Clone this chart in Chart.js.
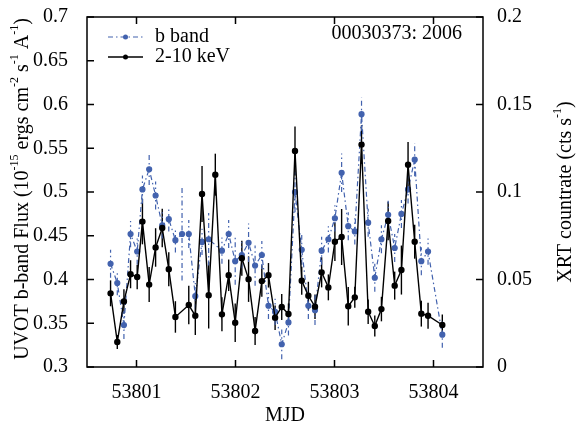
<!DOCTYPE html>
<html>
<head>
<meta charset="utf-8">
<script src="https://cdn.jsdelivr.net/npm/chart.js@4"></script>
<style>
  body { margin: 0; background: #fff; }
  canvas { display: block; }
</style>
</head>
<body>
<canvas id="lightCurve" width="577" height="427"></canvas>
<script>
// UVOT b band (left axis)
const bandMjd = [53800.738, 53800.806, 53800.873, 53800.940, 53801.007, 53801.060, 53801.128, 53801.193, 53801.260, 53801.326,
  53801.393, 53801.460, 53801.528, 53801.594, 53801.662, 53801.729, 53801.863, 53801.931, 53801.997, 53802.064,
  53802.132, 53802.198, 53802.266, 53802.333, 53802.400, 53802.467, 53802.535, 53802.601, 53802.669, 53802.736,
  53802.803, 53802.870, 53802.938, 53803.004, 53803.072, 53803.139, 53803.205, 53803.273, 53803.340, 53803.407,
  53803.474, 53803.542, 53803.608, 53803.676, 53803.743, 53803.810, 53803.877, 53803.945, 53804.089];
const bandFlux = [0.418, 0.396, 0.348, 0.452, 0.432, 0.503, 0.526, 0.496, 0.462, 0.469,
  0.445, 0.452, 0.452, 0.381, 0.443, 0.446, 0.433, 0.452, 0.421, 0.428,
  0.442, 0.416, 0.428, 0.370, 0.363, 0.326, 0.351, 0.500, 0.434, 0.370,
  0.365, 0.433, 0.446, 0.470, 0.522, 0.461, 0.455, 0.589, 0.465, 0.402,
  0.446, 0.474, 0.436, 0.475, 0.503, 0.537, 0.421, 0.432, 0.337];
const bandErr = [0.016, 0.014, 0.016, 0.015, 0.015, 0.016, 0.018, 0.016, 0.015, 0.014,
  0.014, 0.053, 0.016, 0.015, 0.015, 0.030, 0.015, 0.016, 0.027, 0.015,
  0.022, 0.023, 0.016, 0.015, 0.015, 0.017, 0.015, 0.023, 0.017, 0.015,
  0.017, 0.016, 0.015, 0.015, 0.022, 0.016, 0.015, 0.019, 0.016, 0.016,
  0.016, 0.016, 0.016, 0.016, 0.016, 0.019, 0.016, 0.015, 0.015];

// XRT 2-10 keV (right axis)
const xrtMjd = [53800.738, 53800.806, 53800.873, 53800.940, 53801.007, 53801.060, 53801.128, 53801.193, 53801.260, 53801.326,
  53801.393, 53801.528, 53801.594, 53801.662, 53801.729, 53801.796, 53801.863, 53801.931, 53801.997, 53802.064,
  53802.132, 53802.198, 53802.266, 53802.333, 53802.400, 53802.467, 53802.535, 53802.601, 53802.669, 53802.736,
  53802.803, 53802.870, 53802.938, 53803.004, 53803.072, 53803.139, 53803.205, 53803.273, 53803.340, 53803.407,
  53803.474, 53803.542, 53803.608, 53803.676, 53803.743, 53803.810, 53803.877, 53803.945, 53804.089];
const xrtRate = [0.0421, 0.0143, 0.0375, 0.0530, 0.0514, 0.0831, 0.0471, 0.0683, 0.0794, 0.0559,
  0.0286, 0.0354, 0.0293, 0.0989, 0.0410, 0.1099, 0.0301, 0.0524, 0.0253, 0.0622,
  0.0502, 0.0206, 0.0491, 0.0524, 0.0282, 0.0343, 0.0303, 0.1234, 0.0493, 0.0407,
  0.0345, 0.0541, 0.0455, 0.0716, 0.0743, 0.0347, 0.0398, 0.1271, 0.0316, 0.0234,
  0.0331, 0.0834, 0.0465, 0.0554, 0.1156, 0.0716, 0.0305, 0.0293, 0.0240];
const xrtErr = [0.0074, 0.0040, 0.0069, 0.0080, 0.0069, 0.0130, 0.0100, 0.0110, 0.0110, 0.0097,
  0.0090, 0.0110, 0.0110, 0.0160, 0.0190, 0.0120, 0.0097, 0.0090, 0.0110, 0.0100,
  0.0130, 0.0080, 0.0090, 0.0070, 0.0070, 0.0074, 0.0060, 0.0140, 0.0080, 0.0080,
  0.0070, 0.0086, 0.0074, 0.0110, 0.0160, 0.0110, 0.0060, 0.0110, 0.0070, 0.0060,
  0.0070, 0.0110, 0.0080, 0.0140, 0.0130, 0.0097, 0.0074, 0.0074, 0.0060];

const xTicks = [53801, 53802, 53803, 53804];
const yTicks = [0.3, 0.35, 0.4, 0.45, 0.5, 0.55, 0.6, 0.65, 0.7];
const y2Ticks = [0, 0.05, 0.1, 0.15, 0.2];

const BLUE = '#4262ae';
const DASH = [5, 3, 1.5, 3];
const FONT = '"Liberation Serif", "Times New Roman", serif';

const toXY = (xs, ys) => xs.map((x, i) => ({ x: x, y: ys[i] }));
const fixTicks = list => scale => { scale.ticks = list.map(v => ({ value: v })); };
const fixWidth = w => scale => {
  scale.width = w;
  scale.paddingTop = 0;
  scale.paddingBottom = 0;
};

// error bars, frame, inward ticks, titles, legend
const decorations = {
  id: 'decorations',
  beforeDatasetsDraw(chart) {
    const ctx = chart.ctx;
    const area = chart.chartArea;
    ctx.save();
    ctx.beginPath();
    ctx.rect(area.left, area.top, area.right - area.left, area.bottom - area.top);
    ctx.clip();
    chart.data.datasets.forEach(ds => {
      const ys = chart.scales[ds.yAxisID];
      ctx.strokeStyle = ds.borderColor;
      ctx.lineWidth = ds.borderWidth;
      ctx.setLineDash(ds.borderDash || []);
      ds.data.forEach((p, i) => {
        const px = chart.scales.x.getPixelForValue(p.x);
        ctx.beginPath();
        ctx.moveTo(px, ys.getPixelForValue(p.y - ds.errors[i]));
        ctx.lineTo(px, ys.getPixelForValue(p.y + ds.errors[i]));
        ctx.stroke();
      });
    });
    ctx.restore();
  },
  afterDraw(chart) {
    const ctx = chart.ctx;
    const a = chart.chartArea;
    const s = chart.scales;
    const tl = 7;
    ctx.save();
    ctx.strokeStyle = '#000';
    ctx.lineWidth = 1.5;
    ctx.setLineDash([]);
    ctx.strokeRect(a.left, a.top, a.right - a.left, a.bottom - a.top);
    ctx.beginPath();
    xTicks.forEach(v => {
      const px = s.x.getPixelForValue(v);
      ctx.moveTo(px, a.bottom); ctx.lineTo(px, a.bottom - tl);
      ctx.moveTo(px, a.top); ctx.lineTo(px, a.top + tl);
    });
    yTicks.forEach(v => {
      const py = s.y.getPixelForValue(v);
      ctx.moveTo(a.left, py); ctx.lineTo(a.left + tl, py);
    });
    y2Ticks.forEach(v => {
      const py = s.y2.getPixelForValue(v);
      ctx.moveTo(a.right, py); ctx.lineTo(a.right - tl, py);
    });
    ctx.stroke();

    ctx.fillStyle = '#000';
    ctx.font = '20px ' + FONT;
    ctx.textBaseline = 'middle';
    ctx.textAlign = 'center';
    ctx.fillText('MJD', (a.left + a.right) / 2, 416);
    ctx.textAlign = 'right';
    ctx.fillText('00030373: 2006', 462, 34);

    // rotated titles with superscripts
    const rotated = (parts, cx, cy) => {
      ctx.save();
      ctx.translate(cx, cy);
      ctx.rotate(-Math.PI / 2);
      ctx.textAlign = 'left';
      ctx.textBaseline = 'middle';
      let total = 0;
      parts.forEach(p => {
        ctx.font = (p.sup ? '12px ' : '20px ') + FONT;
        total += ctx.measureText(p.t).width;
      });
      let x = -total / 2;
      parts.forEach(p => {
        ctx.font = (p.sup ? '12px ' : '20px ') + FONT;
        ctx.fillText(p.t, x, p.sup ? -8 : 0);
        x += ctx.measureText(p.t).width;
      });
      ctx.restore();
    };
    rotated([
      { t: 'UVOT b-band Flux (10' }, { t: '-15', sup: true }, { t: ' ergs cm' }, { t: '-2', sup: true },
      { t: ' s' }, { t: '-1', sup: true }, { t: ' A' }, { t: '-1', sup: true }, { t: ')' }
    ], 23, 189);
    rotated([
      { t: 'XRT countrate (cts s' }, { t: '-1', sup: true }, { t: ')' }
    ], 566, 192);

    // legend
    const entries = [
      { label: 'b band', color: BLUE, dash: DASH, width: 1.2, y: 37 },
      { label: '2-10 keV', color: '#000', dash: [], width: 1.4, y: 57 }
    ];
    entries.forEach(e => {
      ctx.strokeStyle = e.color;
      ctx.lineWidth = e.width;
      ctx.setLineDash(e.dash);
      ctx.beginPath();
      ctx.moveTo(108, e.y); ctx.lineTo(143, e.y);
      ctx.stroke();
      ctx.fillStyle = e.color;
      ctx.beginPath();
      ctx.arc(125.5, e.y, 2.5, 0, Math.PI * 2);
      ctx.fill();
      ctx.fillStyle = '#000';
      ctx.font = '20px ' + FONT;
      ctx.textAlign = 'left';
      ctx.fillText(e.label, 155, e.y);
    });
    ctx.restore();
  }
};

const ctxCurve = document.getElementById('lightCurve').getContext('2d');
const lightCurve = new Chart(ctxCurve, {
  type: 'line',
  data: {
    datasets: [{
      label: '2-10 keV',
      data: toXY(xrtMjd, xrtRate),
      errors: xrtErr,
      yAxisID: 'y2',
      borderColor: '#000',
      backgroundColor: '#000',
      borderWidth: 1.4,
      pointRadius: 2.5,
      pointHoverRadius: 2.5,
      tension: 0
    }, {
      label: 'b band',
      data: toXY(bandMjd, bandFlux),
      errors: bandErr,
      yAxisID: 'y',
      borderColor: BLUE,
      backgroundColor: BLUE,
      borderWidth: 1.2,
      borderDash: DASH,
      pointRadius: 2.5,
      pointHoverRadius: 2.5,
      tension: 0
    }]
  },
  options: {
    responsive: false,
    animation: false,
    devicePixelRatio: 1,
    layout: { padding: { top: 17, left: 0, right: 0, bottom: 0 } },
    plugins: {
      legend: { display: false },
      tooltip: { enabled: false }
    },
    scales: {
      x: {
        type: 'linear',
        min: 53800.5,
        max: 53804.5,
        afterBuildTicks: fixTicks(xTicks),
        afterFit: scale => {
          scale.height = 60;
          scale.paddingLeft = 0;
          scale.paddingRight = 0;
        },
        grid: { display: false, drawTicks: false },
        border: { display: false },
        ticks: {
          padding: 14,
          color: '#000',
          font: { family: FONT, size: 20 },
          maxRotation: 0,
          callback: v => String(v)
        }
      },
      y: {
        position: 'left',
        min: 0.3,
        max: 0.7,
        afterBuildTicks: fixTicks(yTicks),
        afterFit: fixWidth(87),
        grid: { display: false, drawTicks: false },
        border: { display: false },
        ticks: {
          padding: 19,
          color: '#000',
          font: { family: FONT, size: 20 },
          callback: v => String(+v.toFixed(2))
        }
      },
      y2: {
        position: 'right',
        min: 0,
        max: 0.2,
        afterBuildTicks: fixTicks(y2Ticks),
        afterFit: fixWidth(94),
        grid: { display: false, drawTicks: false },
        border: { display: false },
        ticks: {
          padding: 14,
          color: '#000',
          font: { family: FONT, size: 20 },
          callback: v => String(+v.toFixed(2))
        }
      }
    }
  },
  plugins: [decorations]
});
</script>
</body>
</html>
